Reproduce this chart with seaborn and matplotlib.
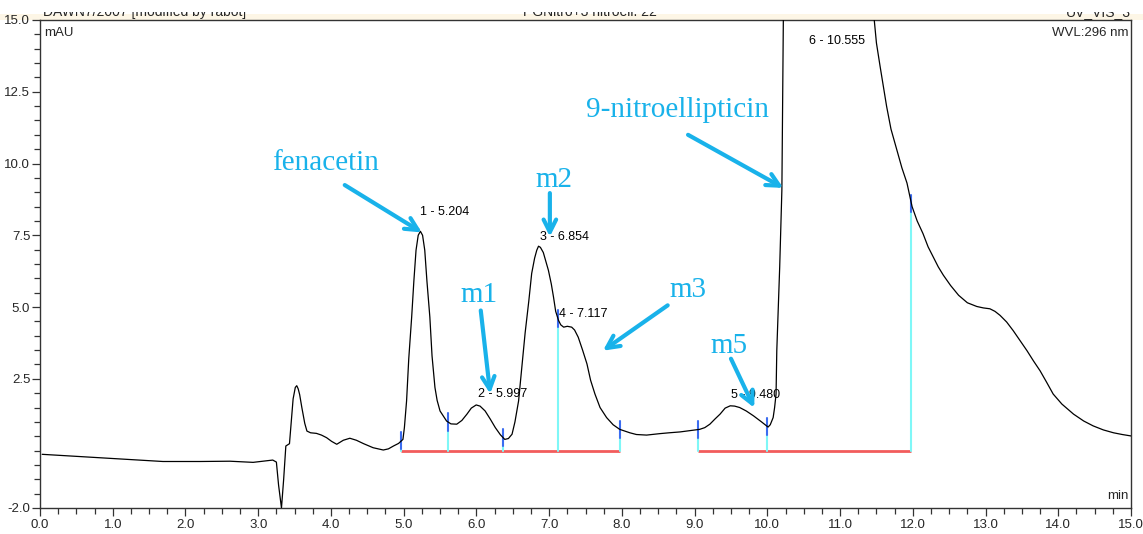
import numpy as np
import pandas as pd
import matplotlib
matplotlib.use("Agg")
import matplotlib.pyplot as plt
from matplotlib.ticker import MultipleLocator, FixedLocator, FormatStrFormatter
from matplotlib.patches import Rectangle
import seaborn as sns

# ---------------- data ----------------
time_min = [0.03, 0.5, 1.24, 1.69, 2.2, 2.61, 2.93, 3.20, 3.25, 3.28, 3.32, 3.35, 3.38, 3.43,
            3.46, 3.48, 3.51, 3.53, 3.55, 3.57, 3.60, 3.64, 3.67, 3.72, 3.80, 3.87, 3.94,
            4.01, 4.08, 4.17, 4.26, 4.35, 4.45, 4.58, 4.72, 4.79, 4.86, 4.93, 4.99, 5.01,
            5.04, 5.07, 5.11, 5.14, 5.17, 5.20, 5.23, 5.26, 5.29, 5.32, 5.36, 5.39,
            5.43, 5.46, 5.50, 5.59, 5.65, 5.73, 5.80, 5.87, 5.93, 5.997, 6.05, 6.12, 6.19,
            6.26, 6.33, 6.39, 6.44, 6.49, 6.53, 6.58, 6.62, 6.67, 6.72, 6.76, 6.80, 6.83,
            6.854, 6.88, 6.92, 6.99, 7.03, 7.06, 7.09, 7.13, 7.16, 7.20, 7.25, 7.31, 7.35,
            7.40, 7.46, 7.52, 7.57, 7.63, 7.70, 7.79, 7.88, 7.97, 8.11, 8.2, 8.34, 8.52,
            8.65, 8.80, 8.95, 9.07, 9.14, 9.21, 9.28, 9.35, 9.42, 9.49, 9.55, 9.62, 9.71,
            9.81, 9.92, 10.01, 10.04, 10.08, 10.10, 10.12, 10.13, 10.17, 10.20, 10.21, 10.22,
            10.25, 10.4, 10.555, 10.8, 11.1, 11.35, 11.47, 11.50, 11.55, 11.64, 11.70, 11.78,
            11.85, 11.92, 11.99, 12.06, 12.14, 12.21, 12.28, 12.35, 12.42, 12.52, 12.63,
            12.75, 12.88, 12.97, 13.06, 13.13, 13.20, 13.29, 13.38, 13.47, 13.57, 13.66,
            13.75, 13.84, 13.93, 14.05, 14.21, 14.35, 14.48, 14.62, 14.76, 14.88, 15.0]
signal_mAU = [-0.13, -0.20, -0.31, -0.38, -0.38, -0.37, -0.41, -0.33, -0.40, -1.2, -2.0, -1.0,
              0.16, 0.24, 1.2, 1.8, 2.2, 2.26, 2.15, 1.95, 1.5, 0.95, 0.68, 0.62, 0.60, 0.54,
              0.45, 0.32, 0.22, 0.36, 0.43, 0.36, 0.24, 0.10, 0.02, 0.06, 0.16, 0.25, 0.39,
              0.8, 1.73, 3.2, 4.65, 5.9, 6.98, 7.5, 7.64, 7.5, 6.98, 5.9, 4.65, 3.3,
              2.20, 1.75, 1.38, 1.03, 0.93, 0.92, 1.05, 1.27, 1.48, 1.59, 1.55, 1.38, 1.10,
              0.80, 0.55, 0.39, 0.42, 0.57, 1.0, 1.73, 2.8, 4.10, 5.2, 6.17, 6.7, 6.98,
              7.12, 7.08, 6.9, 6.28, 5.8, 5.35, 4.85, 4.53, 4.38, 4.30, 4.33, 4.30, 4.2,
              3.95, 3.5, 3.02, 2.45, 1.97, 1.5, 1.15, 0.9, 0.74, 0.62, 0.56, 0.54, 0.59,
              0.62, 0.65, 0.70, 0.74, 0.80, 0.92, 1.1, 1.27, 1.48, 1.56, 1.55, 1.50, 1.38,
              1.21, 1.0, 0.82, 0.9, 1.15, 1.5, 1.97, 3.48, 6.40, 9.08, 12.23, 15.0,
              19.0, 35.0, 45.0, 38.0, 26.0, 18.0, 15.0, 14.2, 13.39, 11.99, 11.2, 10.48,
              9.85, 9.32, 8.50, 8.0, 7.56, 7.1, 6.75, 6.4, 6.11, 5.75, 5.41,
              5.15, 5.02, 4.97, 4.94, 4.85, 4.71, 4.48, 4.18, 3.85, 3.48, 3.12,
              2.78, 2.38, 1.97, 1.62, 1.27, 1.03, 0.86, 0.72, 0.62, 0.56, 0.51]

baseline_segments = [(4.97, 7.97), (9.05, 11.98)]
boundaries = [4.97, 5.61, 6.37, 7.12, 7.97, 9.05, 10.0, 11.98]

peak_labels = ["1 - 5.204", "2 - 5.997", "3 - 6.854", "4 - 7.117", "5 - 9.480", "6 - 10.555"]
peak_times = [5.204, 5.997, 6.854, 7.117, 9.480, 10.555]
peak_label_y = [8.31, 1.98, 7.45, 4.77, 1.94, 14.27]

annot_texts = ["fenacetin", "m2", "m1", "m3", "m5", "9-nitroellipticin"]
annot_text_xy = [(3.93, 10.02), (7.07, 9.43), (6.04, 5.41), (8.91, 5.58), (9.47, 3.66), (8.76, 11.88)]
annot_tail_xy = [(4.19, 9.25), (7.01, 8.97), (6.06, 4.88), (8.63, 5.06), (9.50, 3.20), (8.91, 11.00)]
annot_tip_xy = [(5.25, 7.60), (7.01, 7.45), (6.19, 1.98), (7.74, 3.48), (9.82, 1.49), (10.22, 9.15)]

x_ticks = np.arange(0, 16, 1.0)
y_ticks = [-2.0, 2.5, 5.0, 7.5, 10.0, 12.5, 15.0]

# ---------------- styling ----------------
sns.set_style("ticks")
plt.rcParams["font.family"] = ["Liberation Sans", "DejaVu Sans"]

W, H = 1143, 534
fig = plt.figure(figsize=(W / 100, H / 100), dpi=100)
ax = fig.add_axes([40 / W, 1 - 508 / H, (1131 - 40) / W, (508 - 20) / H])

df = pd.DataFrame({"t": time_min, "v": signal_mAU})
sns.lineplot(data=df, x="t", y="v", ax=ax, color="black", lw=0.9, estimator=None,
             sort=False, zorder=3)

# integration baselines and boundary markers
for a, b in baseline_segments:
    ax.plot([a, b], [0, 0], color="#f25c5c", lw=2.0, zorder=2, solid_capstyle="butt")
for bt in boundaries:
    cv = np.interp(bt, time_min, signal_mAU)
    ax.plot([bt, bt], [0, cv - 0.3], color="#7ff7f7", lw=1.5, zorder=2)
    ax.plot([bt, bt], [cv - 0.3, cv + 0.3], color="#3b6cf0", lw=1.5, zorder=2)

# peak labels
for lab, pt, ly in zip(peak_labels, peak_times, peak_label_y):
    ax.text(pt + 0.02, ly, lab, fontsize=9, ha="left", va="center", color="black", zorder=4)

# blue annotations
acol = "#19b2ea"
for txt, txy, tail, tip in zip(annot_texts, annot_text_xy, annot_tail_xy, annot_tip_xy):
    ax.text(txy[0], txy[1], txt, fontsize=21, color=acol, ha="center", va="center",
            family=["Liberation Serif", "DejaVu Serif"], zorder=5)
    ax.annotate("", xy=tip, xytext=tail,
                arrowprops=dict(arrowstyle="->,head_length=0.9,head_width=0.45",
                                color=acol, lw=3, shrinkA=0, shrinkB=0), zorder=5)

# axes
ax.set_xlim(0, 15)
ax.set_ylim(-2, 15)
ax.set_xlabel("")
ax.set_ylabel("")
ax.xaxis.set_major_locator(FixedLocator(x_ticks))
ax.xaxis.set_minor_locator(MultipleLocator(0.25))
ax.xaxis.set_major_formatter(FormatStrFormatter("%.1f"))
ax.yaxis.set_major_locator(FixedLocator(y_ticks))
ax.yaxis.set_minor_locator(MultipleLocator(0.5))
ax.yaxis.set_major_formatter(FormatStrFormatter("%.1f"))
ax.tick_params(axis="both", which="major", direction="out", length=6, width=0.9,
               labelsize=9.5, pad=2, color="#333333")
ax.tick_params(axis="both", which="minor", direction="out", length=4, width=0.9,
               color="#333333")
ax.tick_params(axis="y", which="major", pad=1)
for s in ax.spines.values():
    s.set_visible(True)
    s.set_color("#333333")
    s.set_linewidth(1.0)

ax.text(0.004, 0.985, "mAU", transform=ax.transAxes, fontsize=9.5, ha="left", va="top")
ax.text(0.998, 0.985, "WVL:296 nm", transform=ax.transAxes, fontsize=9.5, ha="right", va="top")
ax.text(0.998, 0.012, "min", transform=ax.transAxes, fontsize=9.5, ha="right", va="bottom")

# clipped header strip
fig.add_artist(Rectangle((0, 1 - 20 / H), 1, 6 / H, transform=fig.transFigure,
                         facecolor="#fdf6e6", edgecolor="none", zorder=0))
hy = 1 - 16 / H
fig.text(43 / W, hy, "DAWN7/2007 [modified by rabot]", fontsize=10, ha="left", va="baseline")
fig.text(590 / W, hy, "PGNitro+3 nitroell. 22", fontsize=10, ha="center", va="baseline")
fig.text(1131 / W, hy, "UV_VIS_3", fontsize=10, ha="right", va="baseline")
fig.add_artist(Rectangle((0, 1 - 12 / H), 1, 12 / H, transform=fig.transFigure,
                         facecolor="white", edgecolor="none", zorder=10))

fig.savefig("out.png", dpi=100)
